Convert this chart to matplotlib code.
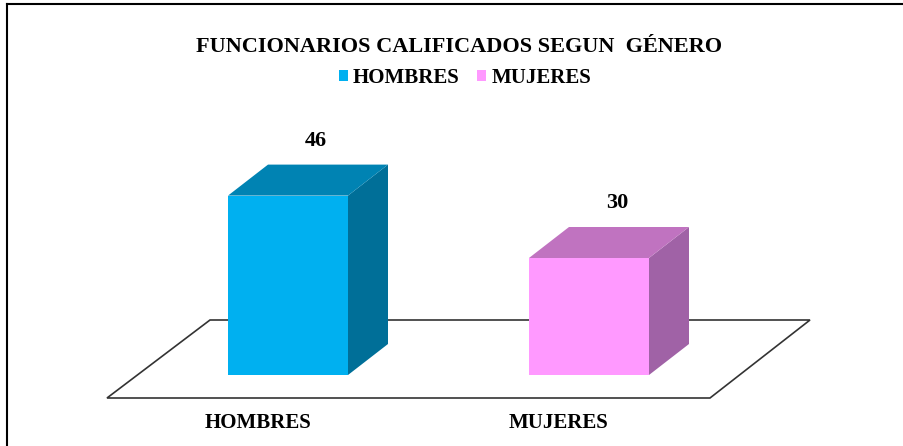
import numpy as np
import matplotlib
matplotlib.use('Agg')
import matplotlib.pyplot as plt
from matplotlib.patches import Polygon, Patch
from matplotlib.lines import Line2D

categories = ['HOMBRES', 'MUJERES']
values = [46, 30]
title = 'FUNCIONARIOS CALIFICADOS SEGUN  GÉNERO'

FRONT = ['#00B0F0', '#FF99FF']
TOP = ['#0083B3', '#C073C0']
SIDE = ['#006F98', '#A062A6']

W, H = 904, 446
PX = 3.9          # pixels per unit of value
BASE = 375        # pixel row of value 0 (front bottom of bars)

plt.rcParams['font.family'] = ['Liberation Serif', 'DejaVu Serif']
plt.rcParams['font.weight'] = 'bold'

fig = plt.figure(figsize=(W / 100, H / 100), dpi=100)
ax = fig.add_axes([0, 0, 1, 1])
# x in pixels, y in value units
ax.set_xlim(0, W)
ax.set_ylim(-(H - BASE) / PX, BASE / PX)
ax.axis('off')

def u(px):  # pixel distance -> value units
    return px / PX

# outer frame (top + left visible)
ax.add_line(Line2D([7, W], [u(BASE - 4)] * 2, color='black', lw=1.5))
ax.add_line(Line2D([7, 7], [u(BASE - 4), -u(H - BASE)], color='black', lw=1.5))

# floor
fy0, fy1 = -u(398 - BASE), u(BASE - 320)
floor = Polygon([(107, fy0), (710, fy0), (810, fy1), (210, fy1)], closed=True,
                facecolor='white', edgecolor='#333333', lw=1.2, zorder=1)
ax.add_patch(floor)

bar_x = [228, 529]
bw = 120
dx, dy = 40, u(31)

for i, (x0, v) in enumerate(zip(bar_x, values)):
    x1 = x0 + bw
    ax.add_patch(Polygon([(x1, 0), (x1 + dx, dy), (x1 + dx, v + dy), (x1, v)],
                         facecolor=SIDE[i], edgecolor='none', zorder=3))
    ax.add_patch(Polygon([(x0, v), (x1, v), (x1 + dx, v + dy), (x0 + dx, v + dy)],
                         facecolor=TOP[i], edgecolor='none', zorder=3))
    ax.add_patch(Polygon([(x0, 0), (x1, 0), (x1, v), (x0, v)],
                         facecolor=FRONT[i], edgecolor='none', zorder=4))
    ax.text(x0 + bw / 2 + 28, v + dy + u(24), str(v), ha='center', va='center',
            fontsize=16, fontweight='bold', color='black')
    ax.text(x0 + bw / 2 - 30, -u(423 - BASE), categories[i], ha='center', va='center',
            fontsize=15, fontweight='bold', color='black')

fig.text(459 / W, 1 - 47 / H, title, ha='center', va='center', fontsize=16, fontweight='bold')

handles = [Patch(facecolor=FRONT[i], edgecolor='none', label=categories[i]) for i in range(2)]
fig.legend(handles=handles, loc='center', bbox_to_anchor=(465 / W, 1 - 78 / H), ncol=2,
           frameon=False, handlelength=0.42, handleheight=0.42, handletextpad=0.25,
           columnspacing=0.85, prop={'size': 15, 'weight': 'bold'})

fig.savefig('out.png', dpi=100, facecolor='white')
